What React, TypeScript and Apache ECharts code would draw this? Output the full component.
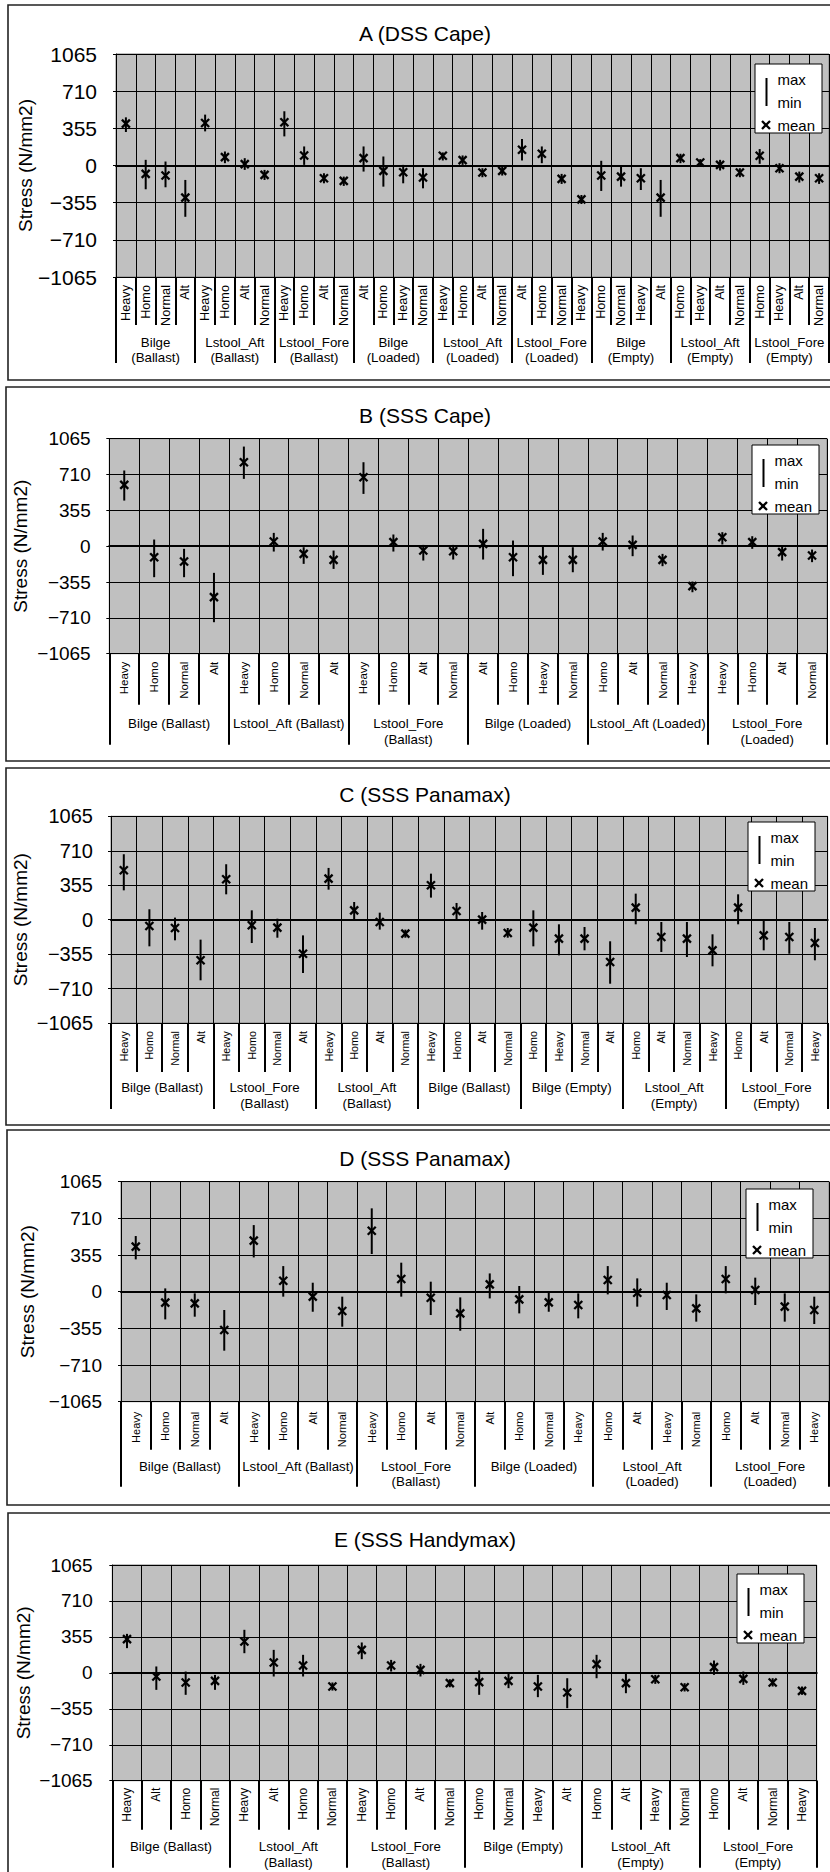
import React, { useEffect, useRef } from 'react';
import * as echarts from 'echarts';

const FONT = '"Liberation Sans", Arial, sans-serif';

// ---------- Panel A (DSS Cape) ----------
const aCats = [
  'Heavy', 'Homo', 'Normal', 'Alt',
  'Heavy', 'Homo', 'Alt', 'Normal',
  'Heavy', 'Homo', 'Alt', 'Normal',
  'Alt', 'Homo', 'Heavy', 'Normal',
  'Heavy', 'Homo', 'Alt', 'Normal',
  'Alt', 'Homo', 'Normal', 'Heavy',
  'Homo', 'Normal', 'Heavy', 'Alt',
  'Homo', 'Heavy', 'Alt', 'Normal',
  'Homo', 'Heavy', 'Alt', 'Normal',
];
const aGroups = [
  'Bilge\n(Ballast)', 'Lstool_Aft\n(Ballast)', 'Lstool_Fore\n(Ballast)',
  'Bilge\n(Loaded)', 'Lstool_Aft\n(Loaded)', 'Lstool_Fore\n(Loaded)',
  'Bilge\n(Empty)', 'Lstool_Aft\n(Empty)', 'Lstool_Fore\n(Empty)',
];
const aMax = [460, 54, 38, -138, 486, 134, 70, -42, 518, 182, -74, -106, 182, 86, 6, -26, 125, 96, -26, -10, 253, 182, -80, -282, 45, -10, -26, -138, 112, 61, 54, -26, 157, 22, -58, -74];
const aMin = [320, -227, -208, -490, 326, 22, -42, -138, 278, 6, -170, -195, -58, -202, -170, -218, 48, 6, -112, -96, 48, 22, -176, -368, -243, -202, -234, -490, 22, -10, -48, -112, 16, -74, -163, -176];
const aMean = [400, -80, -96, -307, 406, 80, 13, -90, 413, 96, -122, -147, 70, -51, -64, -115, 93, 51, -67, -51, 150, 112, -128, -323, -96, -106, -122, -307, 70, 29, 6, -67, 93, -26, -106, -122];

// ---------- Panel B (SSS Cape) ----------
const bCats = [
  'Heavy', 'Homo', 'Normal', 'Alt',
  'Heavy', 'Homo', 'Normal', 'Alt',
  'Heavy', 'Homo', 'Alt', 'Normal',
  'Alt', 'Homo', 'Heavy', 'Normal',
  'Homo', 'Alt', 'Normal', 'Heavy',
  'Heavy', 'Homo', 'Alt', 'Normal',
];
const bGroups = [
  'Bilge (Ballast)', 'Lstool_Aft (Ballast)', 'Lstool_Fore\n(Ballast)',
  'Bilge (Loaded)', 'Lstool_Aft (Loaded)', 'Lstool_Fore\n(Loaded)',
];
const bMax = [750, 66, -26, -264, 987, 132, -10, -43, 832, 116, 13, 13, 172, 56, 0, -10, 132, 106, -76, -350, 139, 99, 7, -33];
const bMin = [452, -307, -307, -753, 667, -53, -175, -225, 518, -53, -142, -132, -132, -297, -284, -258, -43, -99, -198, -456, 17, -26, -142, -158];
const bMean = [608, -109, -152, -505, 832, 46, -76, -135, 683, 40, -43, -50, 23, -109, -135, -135, 46, 13, -135, -396, 89, 40, -59, -92];

// ---------- Panel C (SSS Panamax) ----------
const cCats = [
  'Heavy', 'Homo', 'Normal', 'Alt',
  'Heavy', 'Homo', 'Normal', 'Alt',
  'Heavy', 'Homo', 'Alt', 'Normal',
  'Heavy', 'Homo', 'Alt', 'Normal',
  'Homo', 'Heavy', 'Normal', 'Alt',
  'Homo', 'Alt', 'Normal', 'Heavy',
  'Homo', 'Alt', 'Normal', 'Heavy',
];
const cGroups = [
  'Bilge (Ballast)', 'Lstool_Fore\n(Ballast)', 'Lstool_Aft\n(Ballast)',
  'Bilge (Ballast)', 'Bilge (Empty)', 'Lstool_Aft\n(Empty)', 'Lstool_Fore\n(Empty)',
];
const cMax = [674, 107, 21, -206, 571, 96, 10, -162, 533, 182, 72, -103, 474, 172, 79, -86, 96, -48, -76, -223, 268, -24, -24, -151, 261, -7, -24, -86];
const cMin = [302, -275, -213, -625, 261, -241, -186, -550, 309, -14, -103, -186, 227, -7, -103, -186, -275, -368, -316, -660, -48, -333, -385, -481, -48, -316, -351, -419];
const cMean = [509, -65, -86, -419, 416, -58, -82, -351, 423, 96, -24, -144, 354, 89, 0, -137, -82, -196, -196, -436, 124, -179, -196, -316, 124, -162, -179, -241];

// ---------- Panel D (SSS Panamax) ----------
const dCats = [
  'Heavy', 'Homo', 'Normal', 'Alt',
  'Heavy', 'Homo', 'Alt', 'Normal',
  'Heavy', 'Homo', 'Alt', 'Normal',
  'Alt', 'Homo', 'Normal', 'Heavy',
  'Homo', 'Alt', 'Heavy', 'Normal',
  'Homo', 'Alt', 'Normal', 'Heavy',
];
const dGroups = [
  'Bilge (Ballast)', 'Lstool_Aft (Ballast)', 'Lstool_Fore\n(Ballast)',
  'Bilge (Loaded)', 'Lstool_Aft\n(Loaded)', 'Lstool_Fore\n(Loaded)',
];
const dMax = [539, 32, -16, -177, 645, 248, 87, -48, 807, 281, 97, -55, 177, 55, -10, -16, 248, 129, 87, -26, 248, 136, -16, -48];
const dMin = [313, -268, -242, -571, 332, -48, -194, -339, 365, -48, -226, -378, -65, -210, -194, -258, -26, -145, -177, -290, -16, -129, -290, -313];
const dMean = [436, -106, -113, -371, 494, 106, -48, -187, 590, 123, -58, -210, 71, -74, -103, -129, 113, -10, -32, -161, 123, 16, -145, -177];

// ---------- Panel E (SSS Handymax) ----------
const eCats = [
  'Heavy', 'Alt', 'Homo', 'Normal',
  'Heavy', 'Alt', 'Homo', 'Normal',
  'Heavy', 'Homo', 'Alt', 'Normal',
  'Homo', 'Normal', 'Heavy', 'Alt',
  'Homo', 'Alt', 'Heavy', 'Normal',
  'Homo', 'Alt', 'Normal', 'Heavy',
];
const eGroups = [
  'Bilge (Ballast)', 'Lstool_Aft\n(Ballast)', 'Lstool_Fore\n(Ballast)',
  'Bilge (Empty)', 'Lstool_Aft\n(Empty)', 'Lstool_Fore\n(Empty)',
];
const eMax = [385, 63, 13, -20, 425, 227, 178, -95, 300, 128, 89, -63, 23, -10, -20, -53, 178, -3, -20, -102, 122, 13, -53, -135];
const eMin = [244, -168, -217, -168, 194, -36, -36, -175, 135, 13, -36, -142, -217, -151, -240, -349, -53, -201, -109, -184, -20, -119, -135, -217];
const eMean = [333, -36, -95, -79, 310, 102, 72, -135, 227, 72, 30, -102, -92, -79, -135, -194, 86, -102, -63, -142, 56, -59, -95, -178];

const titles = ['A (DSS Cape)', 'B (SSS Cape)', 'C (SSS Panamax)', 'D (SSS Panamax)', 'E (SSS Handymax)'];
const yName = 'Stress (N/mm2)';
const Y_MIN = -1065;
const Y_MAX = 1065;
const Y_STEP = 355;
const legendTexts = ['max', 'min', 'mean'];

const panelData = [
  { cats: aCats, groups: aGroups, max: aMax, min: aMin, mean: aMean },
  { cats: bCats, groups: bGroups, max: bMax, min: bMin, mean: bMean },
  { cats: cCats, groups: cGroups, max: cMax, min: cMin, mean: cMean },
  { cats: dCats, groups: dGroups, max: dMax, min: dMin, mean: dMean },
  { cats: eCats, groups: eGroups, max: eMax, min: eMin, mean: eMean },
];

// layout (positions / sizes / styles) per panel
const layouts = [
  { grid: { left: 116, top: 54, width: 713, height: 223 }, titleY: 33, nameX: 25, box: [8, 5, 375], legend: [755, 64],
    tickFont: 21, tickMargin: 19, catFont: 12.7, catMargin: 8, catTick: 48, grpTick: 86, grpMargin: 57.5, grpLH: 15 },
  { grid: { left: 109.3, top: 438.7, width: 717.7, height: 215 }, titleY: 415, nameX: 20, box: [6, 387, 374], legend: [752, 445],
    tickFont: 19, tickMargin: 18.6, catFont: 11.5, catMargin: 8, catTick: 51, grpTick: 91, grpMargin: 61.5, grpLH: 16 },
  { grid: { left: 111, top: 816.3, width: 716.7, height: 206.7 }, titleY: 794, nameX: 20, box: [6, 768, 357], legend: [748, 822],
    tickFont: 20, tickMargin: 18, catFont: 10.8, catMargin: 8, catTick: 49, grpTick: 86, grpMargin: 56.5, grpLH: 16 },
  { grid: { left: 121, top: 1181.7, width: 708, height: 220 }, titleY: 1158, nameX: 27, box: [7, 1130, 375], legend: [746, 1189],
    tickFont: 19, tickMargin: 19, catFont: 11, catMargin: 10, catTick: 48, grpTick: 85, grpMargin: 57, grpLH: 15 },
  { grid: { left: 112.3, top: 1565, width: 704.4, height: 215.7 }, titleY: 1539, nameX: 23, box: [8, 1513, 362], legend: [737, 1574],
    tickFont: 19, tickMargin: 19.6, catFont: 12, catMargin: 7, catTick: 49, grpTick: 87, grpMargin: 58, grpLH: 16 },
];

function renderItem(params: any, api: any) {
  const i = api.value(0);
  const lo = api.coord([i, api.value(1)]);
  const mid = api.coord([i, api.value(2)]);
  const hi = api.coord([i, api.value(3)]);
  const s = 4;
  const st = { stroke: '#000', lineWidth: 2.3 };
  return {
    type: 'group',
    children: [
      { type: 'line', shape: { x1: lo[0], y1: lo[1], x2: hi[0], y2: hi[1] }, style: { stroke: '#000', lineWidth: 2 } },
      { type: 'line', shape: { x1: mid[0] - s, y1: mid[1] - s, x2: mid[0] + s, y2: mid[1] + s }, style: st },
      { type: 'line', shape: { x1: mid[0] - s, y1: mid[1] + s, x2: mid[0] + s, y2: mid[1] - s }, style: st },
    ],
  };
}

function textStyle(text: string, size: number, align: string, valign: string) {
  return {
    text,
    fontSize: size,
    fontFamily: FONT,
    fill: '#000',
    align,
    verticalAlign: valign,
    textAlign: align,
    textVerticalAlign: valign,
  };
}

function buildOption() {
  const grid: any[] = [];
  const xAxis: any[] = [];
  const yAxis: any[] = [];
  const series: any[] = [];
  const graphic: any[] = [];

  panelData.forEach((pd, p) => {
    const L = layouts[p];
    grid.push({
      left: L.grid.left, top: L.grid.top, width: L.grid.width, height: L.grid.height,
      show: true, backgroundColor: '#c0c0c0', borderColor: '#808080', borderWidth: 1,
    });
    // zero line axis + vertical grid lines
    xAxis.push({
      type: 'category', gridIndex: p, data: pd.cats, position: 'bottom',
      axisLine: { show: true, onZero: true, lineStyle: { color: '#000', width: 2 } },
      axisTick: { show: true, interval: 0, length: 3, lineStyle: { color: '#000', width: 1 } },
      axisLabel: { show: false },
      splitLine: { show: true, interval: 0, lineStyle: { color: '#000', width: 1 } },
    });
    // category labels
    xAxis.push({
      type: 'category', gridIndex: p, data: pd.cats, position: 'bottom',
      axisLine: { show: true, onZero: false, lineStyle: { color: '#000', width: 1 } },
      axisTick: { show: true, interval: 0, length: L.catTick, lineStyle: { color: '#000', width: 2 } },
      axisLabel: { show: true, interval: 0, rotate: 90, fontSize: L.catFont, fontFamily: FONT, color: '#000', margin: L.catMargin },
      splitLine: { show: false },
    });
    // group labels
    xAxis.push({
      type: 'category', gridIndex: p, data: pd.groups, position: 'bottom',
      axisLine: { show: false, onZero: false },
      axisTick: { show: true, interval: 0, length: L.grpTick, lineStyle: { color: '#000', width: 2 } },
      axisLabel: { show: true, interval: 0, fontSize: 13.3, lineHeight: L.grpLH, fontFamily: FONT, color: '#000', margin: L.grpMargin },
      splitLine: { show: false },
    });
    yAxis.push({
      type: 'value', gridIndex: p, min: Y_MIN, max: Y_MAX, interval: Y_STEP,
      axisLine: { show: true, lineStyle: { color: '#000', width: 1 } },
      axisTick: { show: true, length: 3, lineStyle: { color: '#000' } },
      axisLabel: {
        fontSize: L.tickFont, fontFamily: FONT, color: '#000', margin: L.tickMargin,
        formatter: (v: number) => String(v).replace('-', '\u2212'),
      },
      splitLine: { show: true, lineStyle: { color: '#000', width: 1 } },
    });
    series.push({
      type: 'custom', xAxisIndex: p * 3 + 1, yAxisIndex: p,
      renderItem,
      encode: { x: 0, y: [1, 2, 3] },
      data: pd.cats.map((_, i) => [i, pd.min[i], pd.mean[i], pd.max[i]]),
      z: 5,
    });

    // frame
    graphic.push({
      type: 'rect', z: 1,
      shape: { x: L.box[0], y: L.box[1], width: 850, height: L.box[2] },
      style: { fill: 'none', stroke: '#222', lineWidth: 1.6 },
    });
    // title
    graphic.push({ type: 'text', x: 425, y: L.titleY, z: 10, style: textStyle(titles[p], 21, 'center', 'middle') });
    // y name
    graphic.push({
      type: 'text', x: L.nameX, y: L.grid.top + L.grid.height / 2, rotation: Math.PI / 2, z: 10,
      style: textStyle(yName, 19, 'center', 'middle'),
    });
    // legend
    const [lx, ly] = L.legend;
    graphic.push({
      type: 'rect', z: 100,
      shape: { x: lx, y: ly, width: 67, height: 69 },
      style: { fill: '#fff', stroke: '#000', lineWidth: 1 },
    });
    graphic.push({
      type: 'line', z: 101,
      shape: { x1: lx + 11.5, y1: ly + 14, x2: lx + 11.5, y2: ly + 42 },
      style: { stroke: '#000', lineWidth: 2 },
    });
    graphic.push({
      type: 'line', z: 101,
      shape: { x1: lx + 7, y1: ly + 57, x2: lx + 15, y2: ly + 65 },
      style: { stroke: '#000', lineWidth: 2.3 },
    });
    graphic.push({
      type: 'line', z: 101,
      shape: { x1: lx + 7, y1: ly + 65, x2: lx + 15, y2: ly + 57 },
      style: { stroke: '#000', lineWidth: 2.3 },
    });
    const ys = [15.5, 38, 61];
    legendTexts.forEach((t, k) => {
      graphic.push({ type: 'text', x: lx + 22.5, y: ly + ys[k], z: 101, style: textStyle(t, 15, 'left', 'middle') });
    });
  });

  return { animation: false, backgroundColor: '#fff', grid, xAxis, yAxis, series, graphic };
}

export default function App() {
  const ref = useRef<HTMLDivElement>(null);
  useEffect(() => {
    if (!ref.current) return;
    const chart = echarts.init(ref.current, undefined, { renderer: 'svg' });
    chart.setOption(buildOption() as any);
    return () => chart.dispose();
  }, []);
  return (
    <div
      ref={ref}
      style={{ position: 'absolute', left: 0, top: 0, width: 830, height: 1872, background: '#fff' }}
    />
  );
}
